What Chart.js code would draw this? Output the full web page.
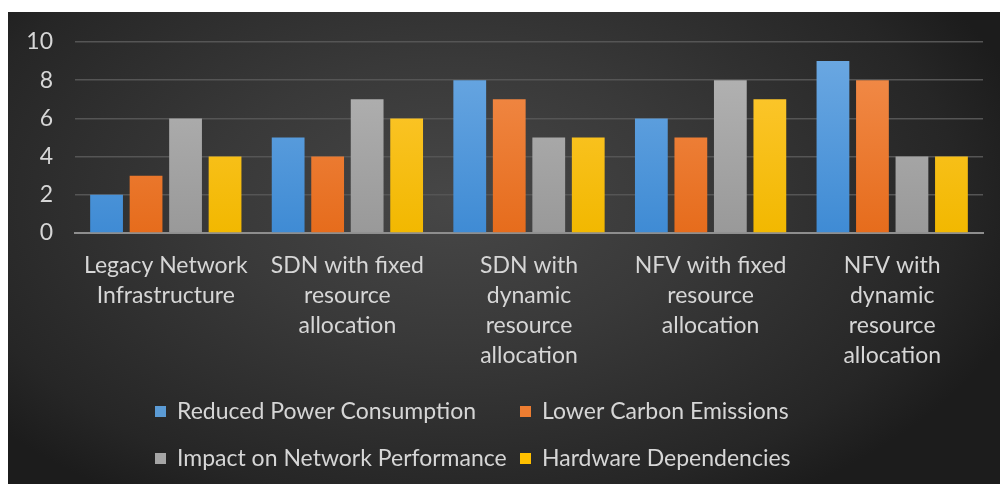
<!DOCTYPE html>
<html>
<head>
<meta charset="utf-8">
<script src="https://cdn.jsdelivr.net/npm/chart.js@4.4.1/dist/chart.umd.min.js"></script>
<style>
  html, body { margin: 0; padding: 0; background: #ffffff; width: 1000px; height: 484px; overflow: hidden; }
  #wrap {
    position: absolute; left: 8px; top: 12px; width: 992px; height: 472px;
    background: radial-gradient(ellipse 60% 75% at 45% 40%, #474747 0%, #393939 40%, #262626 85%, #1c1c1c 100%);
  }
  canvas { display: block; }
</style>
</head>
<body>
<div id="wrap"><canvas id="c" width="992" height="472"></canvas></div>
<script>
const categories = [
  ["Legacy Network", "Infrastructure"],
  ["SDN with fixed", "resource", "allocation"],
  ["SDN with", "dynamic", "resource", "allocation"],
  ["NFV with fixed", "resource", "allocation"],
  ["NFV with", "dynamic", "resource", "allocation"]
];
const seriesNames = ["Reduced Power Consumption", "Lower Carbon Emissions", "Impact on Network Performance", "Hardware Dependencies"];
const reducedPower = [2, 5, 8, 6, 9];
const lowerCarbon = [3, 4, 7, 5, 8];
const networkImpact = [6, 7, 5, 8, 4];
const hardwareDeps = [4, 6, 5, 7, 4];
const yTicks = [0, 2, 4, 6, 8, 10];

const palette = [
  ["#6eaae3", "#3f8bd4", "#5b9bd5"],
  ["#f38f4f", "#e66c1c", "#ed7d31"],
  ["#b6b6b6", "#999999", "#a5a5a5"],
  ["#ffca3a", "#f2b800", "#ffc000"]
];

function grad(idx) {
  return function(ctx) {
    const chart = ctx.chart;
    const area = chart.chartArea;
    if (!area) return palette[idx][2];
    const g = chart.ctx.createLinearGradient(0, area.top, 0, area.bottom);
    g.addColorStop(0, palette[idx][0]);
    g.addColorStop(1, palette[idx][1]);
    return g;
  };
}

const values = [reducedPower, lowerCarbon, networkImpact, hardwareDeps];
const datasets = values.map((v, i) => ({
  label: seriesNames[i],
  data: v,
  backgroundColor: grad(i),
  legendColor: palette[i][2],
  borderWidth: 0,
  categoryPercentage: 0.87,
  barPercentage: 0.83
}));

const FONT = "Lato, 'Open Sans', sans-serif";
const TXT = "#d6d6d6";

const legendPlugin = {
  id: 'colLegend',
  afterDraw(chart) {
    const c = chart.ctx;
    const cols = [147, 512];
    const rows = [399, 446];
    c.save();
    c.font = "23px " + FONT;
    c.textBaseline = "middle";
    chart.data.datasets.forEach((ds, i) => {
      const x = cols[i % 2];
      const y = rows[Math.floor(i / 2)];
      c.fillStyle = ds.legendColor;
      c.fillRect(x, y - 5, 11, 11);
      c.fillStyle = TXT;
      c.fillText(ds.label, x + 22, y + 1);
    });
    c.restore();
  }
};

new Chart(document.getElementById('c'), {
  type: 'bar',
  data: { labels: categories, datasets: datasets },
  options: {
    responsive: false,
    animation: false,
    layout: { padding: { top: 30, right: 17, left: 0, bottom: 0 } },
    plugins: { legend: { display: false }, tooltip: { enabled: false } },
    scales: {
      x: {
        grid: { display: false, drawTicks: false },
        border: { display: true, color: "#8e8e8e", width: 2 },
        ticks: {
          color: TXT, font: { family: FONT, size: 23, lineHeight: 1.3 },
          padding: 18, maxRotation: 0, autoSkip: false
        },
        afterFit(scale) { scale.height = 251; }
      },
      y: {
        min: 0, max: 10,
        afterBuildTicks(scale) { scale.ticks = yTicks.map(v => ({ value: v })); },
        grid: { color: "#555555", lineWidth: 1.5, drawTicks: false },
        border: { display: false },
        ticks: {
          color: TXT, font: { family: FONT, size: 23 }, padding: 22
        },
        afterFit(scale) { scale.width = 67; scale.paddingTop = 10; scale.paddingBottom = 10; }
      }
    }
  },
  plugins: [legendPlugin]
});
</script>
</body>
</html>
